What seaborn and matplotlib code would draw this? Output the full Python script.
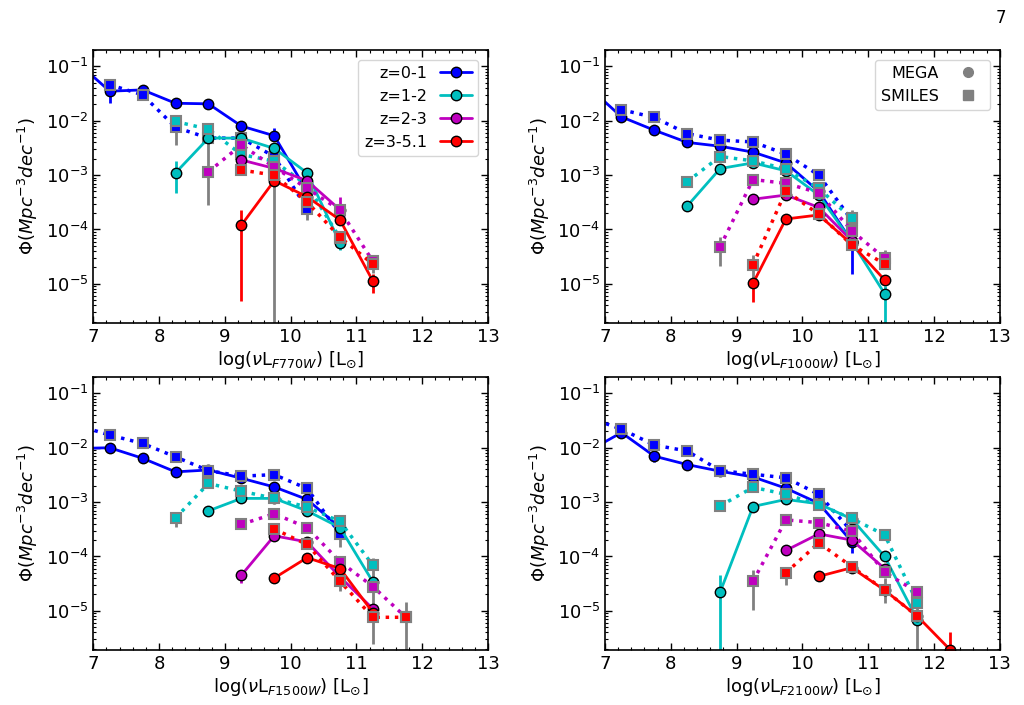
import matplotlib
matplotlib.use('Agg')
import matplotlib.pyplot as plt
from matplotlib.lines import Line2D
from matplotlib.ticker import AutoMinorLocator, LogLocator
import numpy as np
import pandas as pd
import seaborn as sns

n = np.nan

# bin centres of log(nu L) [Lsun]
bins = [6.75, 7.25, 7.75, 8.25, 8.75, 9.25, 9.75, 10.25, 10.75, 11.25, 11.75, 12.25]
zbins = ['z=0-1', 'z=1-2', 'z=2-3', 'z=3-5.1']
zcolors = ['blue', 'c', 'm', 'red']
bands = ['F770W', 'F1000W', 'F1500W', 'F2100W']

# Phi values, one row per redshift bin (nan = no point)
f770w_mega = [
    [0.12, 0.035, 0.037, 0.021, 0.0205, 8.0e-3, 5.3e-3, 5.0e-4, n, n, n, n],
    [n, n, n, 1.1e-3, 4.8e-3, 4.8e-3, 3.1e-3, 1.1e-3, 5.6e-5, n, n, n],
    [n, n, n, n, n, 1.9e-3, 1.33e-3, 7.9e-4, 2.3e-4, n, n, n],
    [n, n, n, n, n, 1.2e-4, 7.9e-4, 4.0e-4, 1.5e-4, 1.12e-5, n, n],
]
f770w_smiles = [
    [n, 0.046, 0.030, 7.6e-3, 4.8e-3, 4.8e-3, 2.2e-3, 2.4e-4, n, n, n, n],
    [n, n, n, 9.7e-3, 7.0e-3, 2.4e-3, 1.8e-3, 6.5e-4, 7.0e-5, n, n, n],
    [n, n, n, n, 1.15e-3, 3.6e-3, 1.4e-3, 5.7e-4, 2.26e-4, 2.6e-5, n, n],
    [n, n, n, n, n, 1.24e-3, 1.0e-3, 3.2e-4, 7.2e-5, 2.3e-5, n, n],
]
f1000w_mega = [
    [0.042, 0.0118, 6.7e-3, 4.0e-3, 3.4e-3, 2.65e-3, 1.68e-3, 5.0e-4, 6.0e-5, n, n, n],
    [n, n, n, 2.7e-4, 1.32e-3, 1.68e-3, 1.2e-3, 4.3e-4, 6.0e-5, 6.6e-6, n, n],
    [n, n, n, n, n, 3.6e-4, 4.3e-4, 2.55e-4, 6.2e-5, n, n, n],
    [n, n, n, n, n, 1.02e-5, 1.56e-4, 1.85e-4, 5.4e-5, 1.18e-5, n, n],
]
f1000w_smiles = [
    [n, 0.016, 0.0115, 5.8e-3, 4.4e-3, 4.08e-3, 2.43e-3, 1.0e-3, 1.5e-4, n, n, n],
    [n, n, n, 7.6e-4, 2.2e-3, 1.83e-3, 1.3e-3, 5.7e-4, 1.6e-4, n, n, n],
    [n, n, n, n, 4.8e-5, 8.3e-4, 7.05e-4, 4.73e-4, 9.5e-5, 2.95e-5, n, n],
    [n, n, n, n, n, 2.24e-5, 5.15e-4, 1.9e-4, 5.2e-5, 2.33e-5, n, n],
]
f1500w_mega = [
    [0.0097, 0.010, 6.4e-3, 3.6e-3, 3.9e-3, 2.75e-3, 1.9e-3, 1.12e-3, 3.4e-4, n, n, n],
    [n, n, n, n, 6.9e-4, 1.17e-3, 1.17e-3, 6.9e-4, 3.4e-4, 3.4e-5, n, n],
    [n, n, n, n, n, 4.5e-5, 2.4e-4, 1.85e-4, 4.2e-5, 1.09e-5, n, n],
    [n, n, n, n, n, n, 4.0e-5, 9.5e-5, 6.0e-5, 9.3e-6, n, n],
]
f1500w_smiles = [
    [0.026, 0.0171, 0.012, 6.8e-3, 3.8e-3, 3.0e-3, 3.2e-3, 1.78e-3, 2.6e-4, n, n, n],
    [n, n, n, 5.1e-4, 2.2e-3, 1.59e-3, 1.17e-3, 8.1e-4, 4.4e-4, 6.9e-5, n, n],
    [n, n, n, n, n, 3.9e-4, 6.1e-4, 3.4e-4, 8.0e-5, 2.8e-5, 7.6e-6, n],
    [n, n, n, n, n, n, 3.2e-4, 1.66e-4, 3.5e-5, 7.6e-6, 7.6e-6, n],
]
f2100w_mega = [
    [0.0087, 0.019, 7.0e-3, 4.9e-3, 3.7e-3, 2.9e-3, 1.8e-3, 9.5e-4, 1.87e-4, n, n, n],
    [n, n, n, n, 2.2e-5, 8.3e-4, 1.12e-3, 9.3e-4, 4.9e-4, 1.0e-4, 6.8e-6, n],
    [n, n, n, n, n, n, 1.29e-4, 2.6e-4, 2.0e-4, 6.0e-5, n, n],
    [n, n, n, n, n, n, n, 4.3e-5, 6.2e-5, 2.4e-5, 7.9e-6, 1.9e-6],
]
f2100w_smiles = [
    [0.036, 0.022, 0.0112, 8.7e-3, 3.8e-3, 3.25e-3, 2.8e-3, 1.39e-3, 2.9e-4, n, n, n],
    [n, n, n, n, 8.5e-4, 1.87e-3, 1.39e-3, 8.9e-4, 5.0e-4, 2.5e-4, 1.4e-5, n],
    [n, n, n, n, n, 3.5e-5, 4.7e-4, 4.2e-4, 2.9e-4, 5.1e-5, 2.2e-5, n],
    [n, n, n, n, n, n, 5.0e-5, 1.78e-4, 6.5e-5, 2.4e-5, 7.9e-6, n],
]

# error bars: (z index, bin, lower, upper)
f770w_mega_err = [(0, 7.25, 0.021, 0.042), (0, 9.75, 4.5e-3, 7.4e-3), (1, 8.25, 4.6e-4, 1.8e-3),
                  (1, 10.75, 4.2e-5, 6.5e-5), (2, 10.75, 1.6e-4, 4.0e-4), (3, 9.25, 4.8e-6, 2.3e-4),
                  (3, 11.25, 6.8e-6, 1.5e-5)]
f770w_smiles_err = [(0, 7.25, 0.036, 0.055), (0, 7.75, 0.025, 0.035), (0, 10.25, 1.5e-4, 3.3e-4),
                    (1, 8.25, 3.6e-3, 1.2e-2), (1, 8.75, 2.8e-4, 9.1e-3), (3, 9.75, 1e-9, 2.5e-3),
                    (3, 11.25, 1.55e-5, 3.4e-5)]
f1000w_mega_err = [(0, 10.75, 1.5e-5, 1.0e-4), (1, 11.25, 1e-9, 9e-6), (1, 8.25, 2.2e-4, 3.2e-4),
                   (3, 9.25, 4.6e-6, 1.3e-5)]
f1000w_smiles_err = [(2, 8.75, 2.1e-5, 7.4e-5), (3, 9.25, 1.3e-5, 3.4e-5), (1, 10.75, 1.1e-4, 2.3e-4),
                     (2, 11.25, 2.0e-5, 4.2e-5)]
f1500w_mega_err = [(2, 9.25, 3.2e-5, 5.5e-5), (3, 9.75, 3.4e-5, 4.6e-5)]
f1500w_smiles_err = [(1, 8.25, 3.5e-4, 6e-4), (0, 10.75, 1.5e-4, 3.2e-4), (3, 10.75, 2.3e-5, 5.1e-5),
                     (1, 11.25, 2.4e-6, 9.5e-5), (3, 11.75, 1e-9, 1.45e-5)]
f2100w_mega_err = [(0, 7.25, 0.015, 0.028), (0, 7.75, 5.5e-3, 8.5e-3), (0, 10.75, 1.15e-4, 2.2e-4),
                   (1, 8.75, 1e-9, 4.6e-5), (3, 12.25, 1e-9, 4.0e-6)]
f2100w_smiles_err = [(2, 9.25, 1.05e-5, 5.6e-5), (3, 9.75, 3.0e-5, 6.0e-5), (3, 11.25, 1.4e-5, 4.0e-5),
                     (3, 11.75, 1e-9, 1.8e-5), (1, 8.75, 7e-4, 9.5e-4), (1, 11.25, 2.0e-4, 3.0e-4)]

mega = [f770w_mega, f1000w_mega, f1500w_mega, f2100w_mega]
smiles = [f770w_smiles, f1000w_smiles, f1500w_smiles, f2100w_smiles]
mega_err = [f770w_mega_err, f1000w_mega_err, f1500w_mega_err, f2100w_mega_err]
smiles_err = [f770w_smiles_err, f1000w_smiles_err, f1500w_smiles_err, f2100w_smiles_err]


def to_frame(row):
    df = pd.DataFrame({'x': bins, 'phi': row})
    return df.dropna()


sns.set_style('ticks')
plt.rcParams.update({
    'xtick.direction': 'in', 'ytick.direction': 'in',
    'xtick.top': True, 'ytick.right': True,
    'axes.linewidth': 1.2, 'axes.edgecolor': 'k',
    'text.color': 'k', 'axes.labelcolor': 'k',
    'xtick.color': 'k', 'ytick.color': 'k',
    'font.family': ['DejaVu Sans'],
})

fig = plt.figure(figsize=(10.24, 7.05), dpi=100)
pos = [(0.0911, 0.5418), (0.5908, 0.5418), (0.0911, 0.0780), (0.5908, 0.0780)]

for k in range(4):
    ax = fig.add_axes([pos[k][0], pos[k][1], 0.3855, 0.3872])
    ax.set_yscale('log')

    # error bars
    for zi, x, lo, hi in mega_err[k]:
        ax.vlines(x, lo, hi, colors=zcolors[zi], lw=2, zorder=1.5)
    for zi, x, lo, hi in smiles_err[k]:
        ax.vlines(x, lo, hi, colors='grey', lw=2, zorder=1.5)

    # each redshift bin: MEGA (solid, circles) then SMILES (dotted, squares)
    for zi in range(4):
        sns.lineplot(data=to_frame(mega[k][zi]), x='x', y='phi', color=zcolors[zi],
                     estimator=None, sort=False, marker='o', markersize=7.5,
                     markeredgecolor='k', markeredgewidth=1, lw=2, ax=ax)
        sns.lineplot(data=to_frame(smiles[k][zi]), x='x', y='phi', color=zcolors[zi],
                     estimator=None, sort=False, marker='s', markersize=6.5,
                     markeredgecolor='grey', markeredgewidth=1.5, lw=2.5, linestyle=':', ax=ax)

    ax.set_xlim(7, 13)
    ax.set_ylim(1.9e-6, 0.2)
    ax.xaxis.set_minor_locator(AutoMinorLocator(5))
    ax.yaxis.set_minor_locator(LogLocator(base=10, subs=np.arange(2, 10), numticks=20))
    ax.tick_params(which='both', direction='in', top=True, right=True, color='k')
    ax.tick_params(which='major', length=5, width=1, labelsize=13)
    ax.tick_params(which='minor', length=2.5, width=0.8)
    ax.set_xlabel(r'log($\nu$L$_{' + bands[k] + r'}$) [L$_{\odot}$]', fontsize=13, labelpad=2)
    ax.set_ylabel(r'$\Phi (Mpc^{-3} dec^{-1})$', fontsize=13)

    if k == 0:
        handles = [Line2D([], [], color=c, lw=2, marker='o', ms=7.5, mec='k', mew=1)
                   for c in zcolors]
        ax.legend(handles, zbins, loc='upper right', markerfirst=False, fontsize=11.5,
                  borderaxespad=0.6)
    if k == 1:
        handles = [Line2D([], [], ls='none', marker='o', ms=7, color='grey'),
                   Line2D([], [], ls='none', marker='s', ms=6.5, color='grey')]
        ax.legend(handles, ['MEGA', 'SMILES'], loc='upper right', markerfirst=False,
                  fontsize=11.5, borderaxespad=0.6)

fig.text(0.977, 0.975, '7', fontsize=12, ha='center', va='center')

fig.savefig('out.png', dpi=100)
